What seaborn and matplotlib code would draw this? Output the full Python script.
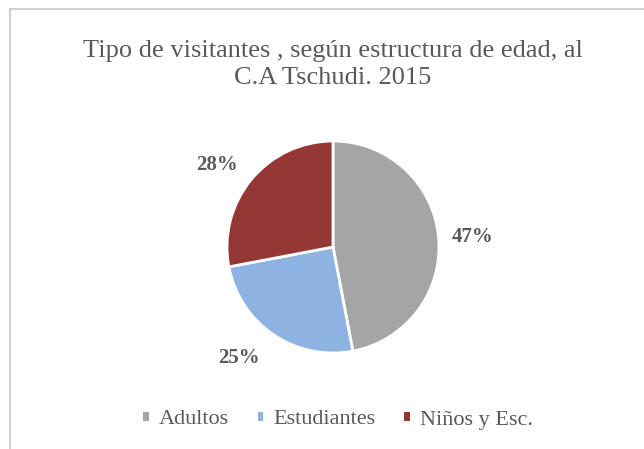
import matplotlib
matplotlib.use("Agg")
import matplotlib.pyplot as plt
import seaborn as sns
from matplotlib.lines import Line2D
from matplotlib.patches import Patch

# data
categories = ["Adultos", "Estudiantes", "Niños y Esc."]
shares = [47, 25, 28]
slice_colors = ["#A5A5A5", "#8DB3E2", "#953735"]

sns.set_style("white")
plt.rcParams['font.family'] = ['Liberation Serif', 'DejaVu Serif']

W, H = 644, 449
fig = plt.figure(figsize=(W / 100, H / 100), dpi=100)

# chart border (only top and left visible in the crop)
fig.add_artist(Line2D([10 / W, 1], [1 - 9 / H, 1 - 9 / H], color="#D0D0D0", lw=1.5))
fig.add_artist(Line2D([10 / W, 10 / W], [0, 1 - 9 / H], color="#D0D0D0", lw=1.5))

fig.text(333 / W, 1 - 64.5 / H, "Tipo de visitantes , según estructura de edad, al\nC.A Tschudi. 2015",
         ha="center", va="center", fontsize=19, color="#595959", linespacing=1.3)

r = 106
ax = fig.add_axes([(333 - r) / W, (H - 247 - r) / H, 2 * r / W, 2 * r / H])
wedges, texts, autotexts = ax.pie(
    shares, colors=slice_colors, startangle=90, counterclock=False,
    autopct="%1.0f%%", pctdistance=1.36,
    wedgeprops=dict(edgecolor="white", linewidth=2),
    textprops=dict(fontsize=15, fontweight="bold", color="#595959"),
    radius=1.0)
# small nudges so the labels sit where Excel put them
nudges = [(-0.04, -0.03), (-0.12, 0.08), (-0.05, -0.09)]
for t, (dx, dy) in zip(autotexts, nudges):
    x, y = t.get_position()
    t.set_position((x + dx, y + dy))
ax.set_xlim(-1, 1)
ax.set_ylim(-1, 1)
ax.set_aspect("equal")
ax.axis("off")

handles = [Patch(facecolor=c, edgecolor="none") for c in slice_colors]
fig.legend(handles, categories, loc="center", bbox_to_anchor=(338 / W, 1 - 420 / H),
           ncol=3, frameon=False, fontsize=16, handlelength=0.25, handleheight=0.25,
           handletextpad=0.45, columnspacing=1.3, labelcolor="#595959")

fig.savefig("out.png", dpi=100)
